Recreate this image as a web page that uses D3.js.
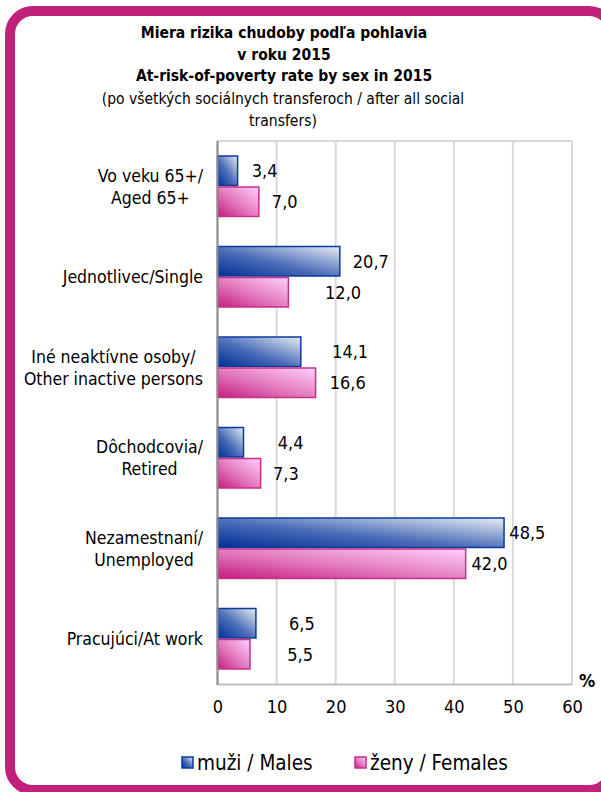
<!DOCTYPE html>
<html><head><meta charset="utf-8">
<script src="https://cdn.jsdelivr.net/npm/d3@7"></script>
<style>
html,body{margin:0;padding:0;background:#fff;}
svg text{font-family:Tahoma,"DejaVu Sans Condensed","DejaVu Sans",sans-serif;fill:#000;}
</style></head>
<body>
<svg id="chart" width="601" height="792"></svg>
<script>
// ---- data ----
const categories = [
  ["Vo veku 65+/", "Aged 65+"],
  ["Jednotlivec/Single"],
  ["Iné neaktívne osoby/", "Other inactive persons"],
  ["Dôchodcovia/", "Retired"],
  ["Nezamestnaní/", "Unemployed"],
  ["Pracujúci/At work"]
];
const males   = [3.4, 20.7, 14.1, 4.4, 48.5, 6.5];
const females = [7.0, 12.0, 16.6, 7.3, 42.0, 5.5];
const seriesNames = ["muži / Males", "ženy / Females"];
const xTicks = [0, 10, 20, 30, 40, 50, 60];
const titleLines = ["Miera rizika chudoby podľa pohlavia", "v roku 2015", "At-risk-of-poverty rate by sex in 2015"];
const subtitleLines = ["(po všetkých sociálnych transferoch / after all social", "transfers)"];
// label anchors (axis units) where each value label starts, as placed in the original
const maleLabelAt   = [5.8, 22.9, 19.4, 10.2, 49.4, 12.1];
const femaleLabelAt = [9.2, 18.2, 19.0, 9.4, 43.0, 11.8];

const fmt = v => v.toFixed(1).replace(".", ",");

const svg = d3.select("#chart");
const defs = svg.append("defs");
function grad(id, dark, mid, light){
  const g = defs.append("linearGradient").attr("id", id)
    .attr("x1", 0).attr("y1", 1).attr("x2", 1).attr("y2", 0);
  g.append("stop").attr("offset", "0%").attr("stop-color", dark);
  g.append("stop").attr("offset", "45%").attr("stop-color", mid);
  g.append("stop").attr("offset", "100%").attr("stop-color", light);
}
grad("gM", "#002f97", "#4a6db8", "#e6ecf3");
grad("gF", "#c41c7e", "#e278bc", "#ffd0fe");
const colors = {M:{fill:"url(#gM)", stroke:"#0a3a9e"}, F:{fill:"url(#gF)", stroke:"#c82f88"}};

// frame
svg.append("rect").attr("x", 10).attr("y", 11).attr("width", 602).attr("height", 779)
  .attr("rx", 23).attr("fill", "#fff").attr("stroke", "#c1207b").attr("stroke-width", 10);

// title
const title = svg.append("text").attr("text-anchor", "middle");
titleLines.forEach((t, i) => title.append("tspan").attr("x", 284).attr("y", 38 + i * 21.7)
  .attr("font-weight", "bold").attr("font-size", 15.5).text(t));
subtitleLines.forEach((t, i) => title.append("tspan").attr("x", 283).attr("y", 104 + i * 21.7)
  .attr("font-size", 15.5).text(t));

// scales
const x = d3.scaleLinear().domain([0, 60]).range([217.5, 572]);
const y = d3.scaleBand().domain(d3.range(categories.length)).range([141, 684])
  .paddingInner(0.315).paddingOuter(0.1575);
const sub = d3.scaleBand().domain(["M", "F"]).range([0, y.bandwidth()]);

// grid + plot border
const g = svg.append("g");
g.append("g").selectAll("line").data(xTicks).join("line")
  .attr("x1", d => x(d)).attr("x2", d => x(d)).attr("y1", 141).attr("y2", 684)
  .attr("stroke", "#d9d9d9").attr("stroke-width", 2);
g.append("line").attr("x1", x(0)).attr("x2", x(60)).attr("y1", 141).attr("y2", 141)
  .attr("stroke", "#d9d9d9").attr("stroke-width", 2);

// bars
const rows = categories.map((c, i) => ({i, M: males[i], F: females[i], ML: maleLabelAt[i], FL: femaleLabelAt[i]}));
const grp = g.append("g").selectAll("g").data(rows).join("g")
  .attr("transform", d => `translate(0,${y(d.i)})`);
["M", "F"].forEach(k => {
  grp.append("rect")
    .attr("x", x(0)).attr("y", sub(k) + 0.75)
    .attr("width", d => x(d[k]) - x(0)).attr("height", sub.bandwidth() - 1.5)
    .attr("fill", colors[k].fill).attr("stroke", colors[k].stroke).attr("stroke-width", 1.5);
  grp.append("text")
    .attr("x", d => x(d[k + "L"])).attr("y", sub(k) + sub.bandwidth() / 2)
    .attr("dy", "0.36em").attr("font-size", 18).text(d => fmt(d[k]));
});

// axes
const xAxis = d3.axisBottom(x).tickValues(xTicks).tickSize(0).tickPadding(16);
const ax = svg.append("g").attr("transform", "translate(0,684)").call(xAxis);
ax.select(".domain").attr("stroke", "#bfbfbf").attr("stroke-width", 2);
ax.selectAll("text").attr("font-size", 18).attr("font-family", null);
svg.append("line").attr("x1", x(0)).attr("x2", x(0)).attr("y1", 141).attr("y2", 685)
  .attr("stroke", "#8c8c8c").attr("stroke-width", 2);

// category labels (block right-aligned, lines centred)
const catG = svg.append("g");
rows.forEach(r => {
  const lines = categories[r.i];
  const t = catG.append("text").attr("font-size", 17.5).attr("text-anchor", "middle");
  const cy = y(r.i) + y.bandwidth() / 2;
  const lh = 22;
  const spans = lines.map((l, j) => t.append("tspan")
    .attr("y", cy + (j - (lines.length - 1) / 2) * lh).attr("dy", "0.36em").text(l));
  const w = d3.max(spans, s => s.node().getComputedTextLength());
  spans.forEach(s => s.attr("x", 203 - w / 2));
});

// % unit
svg.append("text").attr("x", 587).attr("y", 687).attr("text-anchor", "middle")
  .attr("font-weight", "bold").attr("font-size", 18).text("%");

// legend
const leg = svg.append("g");
const legItems = [{k: "M", x: 182, name: seriesNames[0]}, {k: "F", x: 355, name: seriesNames[1]}];
legItems.forEach(it => {
  leg.append("rect").attr("x", it.x).attr("y", 757).attr("width", 11).attr("height", 11)
    .attr("fill", colors[it.k].fill).attr("stroke", colors[it.k].stroke).attr("stroke-width", 1.5);
  leg.append("text").attr("x", it.x + 15).attr("y", 763).attr("dy", "0.36em")
    .attr("font-size", 20.5).text(it.name);
});
</script>
</body></html>
